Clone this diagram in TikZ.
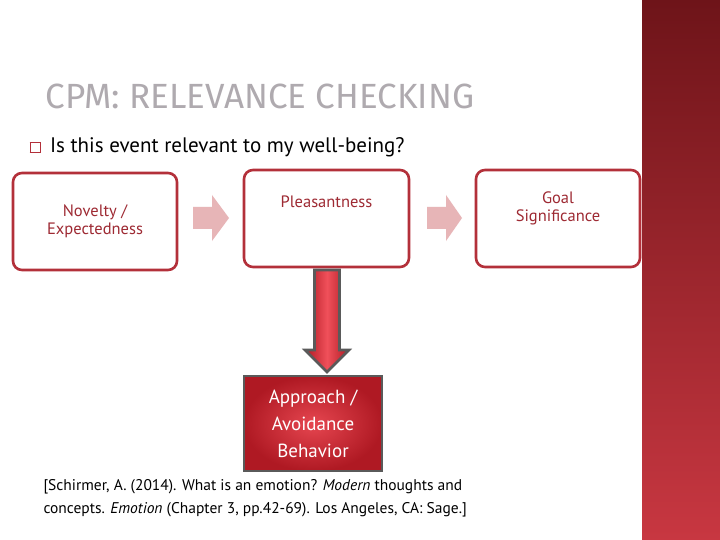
\documentclass[tikz,border=0pt]{standalone}
\usepackage{fontspec}
\setmainfont{PT Sans}
\newfontfamily\titlefont{Fira Sans}
\usetikzlibrary{shadings}
\definecolor{bred}{HTML}{B3303A}
\definecolor{tred}{HTML}{9E2A33}
\definecolor{pinkarr}{HTML}{E7B5B7}
\definecolor{grayb}{HTML}{5A5A5A}
\tikzset{
  box/.style={draw=bred,line width=2.6pt,rounded corners=9pt,fill=white,text=tred,align=center,font=\fontsize{16.5}{18}\selectfont},
  parr/.style={fill=pinkarr,draw=none},
}
\begin{document}
\begin{tikzpicture}[x=1pt,y=-1pt]
\useasboundingbox (0,0) rectangle (720,540);
\fill[white] (0,0) rectangle (720,540);
\shade[top color={rgb,255:red,110;green,20;blue,25}, bottom color={rgb,255:red,200;green,55;blue,65}] (642,0) rectangle (720,540);
\node[anchor=west,font=\titlefont\fontsize{35}{36}\selectfont,text={rgb,255:red,175;green,170;blue,175}] (title) at (42,96) {CPM: RELEVANCE CHECKING};
\node[anchor=west,font=\fontsize{21}{24}\selectfont] (q) at (26,147) {{\color{bred}\setlength\fboxsep{0pt}\setlength\fboxrule{0.7pt}\fbox{\rule{0pt}{10pt}\hspace{10pt}}}\, Is this event relevant to my well-being?};
\node[box,minimum width=164pt,minimum height=97pt] (n1) at (95,221.5) {Novelty /\\Expectedness};
\node[box,minimum width=165pt,minimum height=97pt] (n2) at (326.5,218.5) {Pleasantness\\[16pt]};
\node[box,minimum width=164pt,minimum height=97pt] (n3) at (558,218.5) {Goal\\Significance\\[5pt]};
\fill[parr] (193,207) -- (212,207) -- (212,195) -- (229,218) -- (212,241) -- (212,229) -- (193,229) -- cycle;
\fill[parr] (427,207) -- (446,207) -- (446,195) -- (462,218) -- (446,241) -- (446,229) -- (427,229) -- cycle;
\node[draw=grayb,line width=2.6pt,inner color={rgb,255:red,230;green,70;blue,80},outer color={rgb,255:red,175;green,25;blue,35},minimum width=138pt,minimum height=95pt,text=white,align=center,font=\fontsize{19}{27}\selectfont] (ab) at (313,423.5) {Approach /\\Avoidance\\Behavior};
\shade[draw=grayb,line width=2.6pt,left color={rgb,255:red,175;green,25;blue,35},right color={rgb,255:red,175;green,25;blue,35},middle color={rgb,255:red,240;green,80;blue,90}] (314.5,270) -- (314.5,350) -- (305,350) -- (327,372) -- (349,350) -- (339.5,350) -- (339.5,270) -- cycle;
\node[anchor=north west,align=left,font=\fontsize{15.5}{23}\selectfont] (cite) at (40,476) {[Schirmer, A. (2014). What is an emotion? \textit{Modern} thoughts and\\concepts. \textit{Emotion} (Chapter 3, pp.42-69). Los Angeles, CA: Sage.]};
\end{tikzpicture}
\end{document}
